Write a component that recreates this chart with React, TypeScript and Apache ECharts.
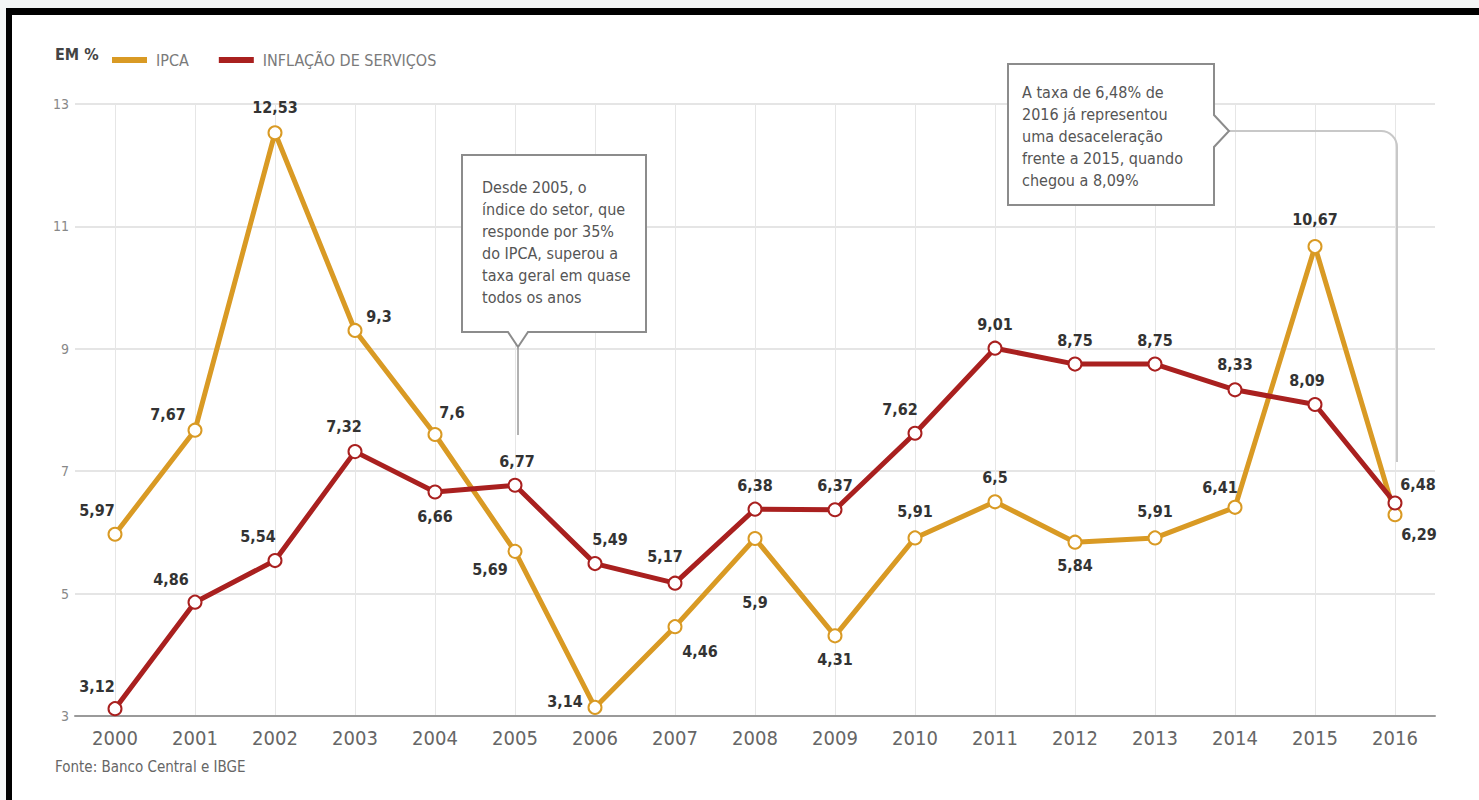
import React, { useEffect, useRef } from "react";
import * as echarts from "echarts";

const years = ["2000","2001","2002","2003","2004","2005","2006","2007","2008","2009","2010","2011","2012","2013","2014","2015","2016"];
const ipca = [5.97, 7.67, 12.53, 9.3, 7.6, 5.69, 3.14, 4.46, 5.9, 4.31, 5.91, 6.5, 5.84, 5.91, 6.41, 10.67, 6.29];
const servicos = [3.12, 4.86, 5.54, 7.32, 6.66, 6.77, 5.49, 5.17, 6.38, 6.37, 7.62, 9.01, 8.75, 8.75, 8.33, 8.09, 6.48];
const yTicks = [3, 5, 7, 9, 11, 13];

// label placements (pixel offsets from point centre)
const ipcaLabelOffsets = [[-18,-24],[-27,-16],[0,-25],[24,-14],[17,-22],[-25,18],[-30,-6],[25,25],[0,64],[0,24],[0,-26],[0,-24],[0,23],[0,-26],[-15,-20],[0,-27],[24,20]];
const servLabelOffsets = [[-18,-22],[-24,-23],[-17,-24],[-11,-25],[0,24],[2,-24],[15,-24],[-10,-27],[0,-24],[0,-24],[-15,-24],[0,-24],[0,-24],[0,-24],[0,-25],[-8,-24],[23,-19]];

const note1 = ["Desde 2005, o", "índice do setor, que", "responde por 35%", "do IPCA, superou a", "taxa geral em quase", "todos os anos"];
const note2 = ["A taxa de 6,48% de", "2016 já representou", "uma desaceleração", "frente a 2015, quando", "chegou a 8,09%"];

const NARROW = "'Liberation Sans Narrow', 'DejaVu Sans Condensed', 'Roboto Condensed', Roboto, sans-serif";
const ORANGE = "#D99A24";
const RED = "#A9201F";

const fmt = (v: number) => String(v).replace(".", ",");

export default function App() {
  const ref = useRef<HTMLDivElement>(null);
  useEffect(() => {
    if (!ref.current) return;
    const chart = echarts.init(ref.current, undefined, { renderer: "svg" });
    const mkData = (vals: number[], offs: number[][]) =>
      vals.map((v, i) => ({ value: v, label: { offset: offs[i] } }));
    const labelStyle = {
      show: true,
      position: "inside",
      formatter: (p: any) => fmt(p.value),
      color: "#333",
      fontFamily: NARROW,
      fontWeight: "bold",
      fontSize: 16,
    };
    chart.setOption({
      animation: false,
      backgroundColor: "transparent",
      grid: { left: 75, right: 44, top: 104, bottom: 84 },
      legend: {
        left: 107,
        top: 47,
        icon: "rect",
        itemWidth: 35,
        itemHeight: 6,
        itemGap: 30,
        itemStyle: { borderWidth: 0 },
        textStyle: { color: "#7a7a7a", fontSize: 16, fontFamily: NARROW, padding: [0, 0, 0, 4] },
        data: ["IPCA", "INFLAÇÃO DE SERVIÇOS"],
      },
      xAxis: {
        type: "category",
        data: years,
        boundaryGap: true,
        axisLine: { lineStyle: { color: "#9a9a9a", width: 2 } },
        axisTick: { show: false },
        axisLabel: { color: "#666", fontSize: 20, fontFamily: NARROW, margin: 12 },
        splitLine: { show: true, alignWithLabel: true, lineStyle: { color: "#e6e6e6", width: 1 } },
      },
      yAxis: {
        type: "value",
        min: 3,
        max: 13,
        interval: 2,
        axisLine: { show: false },
        axisTick: { show: false },
        axisLabel: { color: "#888", fontSize: 14, fontFamily: NARROW, margin: 6,
          formatter: (v: number) => (yTicks.includes(v) ? String(v) : "") },
        splitLine: { lineStyle: { color: "#dcdcdc", width: 1.5 } },
      },
      series: [
        {
          name: "IPCA",
          type: "line",
          data: mkData(ipca, ipcaLabelOffsets),
          symbol: "emptyCircle",
          symbolSize: 13,
          color: ORANGE,
          itemStyle: { color: ORANGE, borderWidth: 3 },
          lineStyle: { color: ORANGE, width: 5 },
          label: labelStyle,
          z: 3,
        },
        {
          name: "INFLAÇÃO DE SERVIÇOS",
          type: "line",
          data: mkData(servicos, servLabelOffsets),
          symbol: "emptyCircle",
          symbolSize: 13,
          color: RED,
          itemStyle: { color: RED, borderWidth: 3 },
          lineStyle: { color: RED, width: 5 },
          label: labelStyle,
          z: 4,
        },
      ],
      graphic: [
        { type: "text", left: 55, top: 46, style: { text: "EM %", fill: "#444", fontSize: 16, fontWeight: "bold", fontFamily: NARROW } },
        { type: "text", left: 55, top: 759, style: { text: "Fonte: Banco Central e IBGE", fill: "#666", fontSize: 15, fontFamily: NARROW } },
        { type: "line", z: 5, shape: { x1: 518, y1: 348, x2: 518, y2: 435 }, style: { stroke: "#999", lineWidth: 1.5 } },
        { type: "polygon", z: 10, shape: { points: [[462,155],[646,155],[646,332],[528,332],[518,347],[508,332],[462,332]] }, style: { fill: "#fff", stroke: "#8c8c8c", lineWidth: 2 } },
        { type: "text", z: 11, x: 482, y: 176, style: { text: note1.join("\n"), fill: "#555", fontSize: 16, lineHeight: 22, fontFamily: NARROW } },
        { type: "line", z: 5, shape: { x1: 1229, y1: 131, x2: 1381, y2: 131 }, style: { stroke: "#c8c8c8", lineWidth: 2 } },
        { type: "arc", z: 5, shape: { cx: 1381, cy: 147, r: 16, startAngle: -Math.PI / 2, endAngle: 0, clockwise: true }, style: { stroke: "#c8c8c8", lineWidth: 2, fill: "none" } },
        { type: "line", z: 5, shape: { x1: 1397, y1: 147, x2: 1397, y2: 462 }, style: { stroke: "#c8c8c8", lineWidth: 2 } },
        { type: "polygon", z: 10, shape: { points: [[1008,64],[1214,64],[1214,115],[1229,131],[1214,147],[1214,205],[1008,205]] }, style: { fill: "#fff", stroke: "#8c8c8c", lineWidth: 2 } },
        { type: "text", z: 11, x: 1022, y: 81, style: { text: note2.join("\n"), fill: "#555", fontSize: 16, lineHeight: 22, fontFamily: NARROW } },
      ],
    });
    return () => chart.dispose();
  }, []);
  return (
    <div style={{ position: "fixed", left: 0, top: 0, width: 1479, height: 800, background: "#f3f5f5" }}>
      <div style={{ position: "absolute", left: 6, top: 8, width: 1473, height: 792, boxSizing: "border-box", borderTop: "7px solid #000", borderLeft: "6px solid #000", background: "#fff" }} />
      <div ref={ref} style={{ position: "absolute", left: 0, top: 0, width: 1479, height: 800 }} />
    </div>
  );
}
